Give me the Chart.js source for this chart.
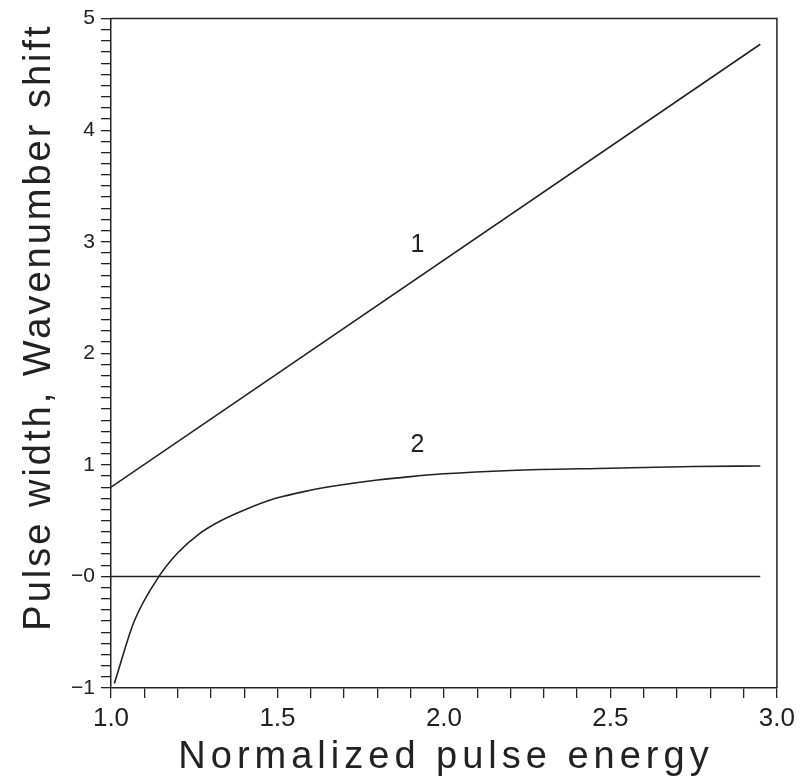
<!DOCTYPE html>
<html>
<head>
<meta charset="utf-8">
<title>Pulse width and wavenumber shift</title>
<script src="https://cdn.jsdelivr.net/npm/chart.js@4.4.1/dist/chart.umd.min.js"></script>
<style>
  html, body { margin: 0; padding: 0; background: #fff; }
  #wrap { width: 800px; height: 778px; position: relative; }
</style>
</head>
<body>
<div id="wrap"><canvas id="chart"></canvas></div>
<script>
// Data
const curve1X = [1.0, 2.95];
const curve1Y = [0.8, 4.77];

const curve2X = [1.01, 1.07, 1.144, 1.2, 1.264, 1.324, 1.404, 1.495, 1.595, 1.68, 1.8, 1.9, 2.0, 2.2, 2.5, 2.75, 2.95];
const curve2Y = [-0.96, -0.40, 0.0, 0.21, 0.38, 0.49, 0.60, 0.70, 0.77, 0.815, 0.865, 0.895, 0.92, 0.95, 0.97, 0.985, 0.99];

const zeroX = [1.0, 2.95];
const zeroY = [0, 0];

const curveLabels = ['1', '2'];
const curveLabelX = [1.92, 1.92];
const curveLabelY = [2.97, 1.18];

// axis ranges, minor tick step, labelled ticks
const xRange = [1, 3];
const yRange = [-1, 5];
const minorStep = 0.1;
const xTickLabels = {'1.0':'1.0', '1.5':'1.5', '2.0':'2.0', '2.5':'2.5', '3.0':'3.0'};
const yTickLabels = {'-1.0':'\u22121', '0.0':'\u22120', '1.0':'1', '2.0':'2', '3.0':'3', '4.0':'4', '5.0':'5'};

const xTitle = 'Normalized pulse energy';
const yTitle = 'Pulse width, Wavenumber shift';

const FONT = '"Liberation Sans", Arial, sans-serif';
const INK = '#222';

function pts(xs, ys){ return xs.map((x,i)=>({x:x, y:ys[i]})); }

function lineSet(xs, ys, smooth){
  return {data: pts(xs, ys), showLine:true, borderColor:INK, borderWidth:1.6, pointRadius:0,
    tension: smooth ? 0.4 : 0, cubicInterpolationMode: smooth ? 'monotone' : 'default', fill:false};
}

// every 0.1 between the ends of the range
function minorTicks(scale){
  const n = Math.round((scale.max - scale.min) / minorStep);
  const out = [];
  for(let i=0;i<=n;i++) out.push({value: Math.round((scale.min + i*minorStep)*10)/10});
  scale.ticks = out;
}

function keyOf(v){ const k = Number(v).toFixed(1); return k === '-0.0' ? '0.0' : k; }

// frame, curve numbers and axis titles
const decorations = {
  id: 'decorations',
  afterDraw(chart){
    const {ctx, chartArea:a, scales} = chart;
    ctx.save();
    ctx.strokeStyle = INK; ctx.lineWidth = 1.5;
    ctx.beginPath();
    ctx.moveTo(a.left, a.top); ctx.lineTo(a.right, a.top); ctx.lineTo(a.right, a.bottom);
    ctx.stroke();

    ctx.fillStyle = INK;
    ctx.font = '25px ' + FONT;
    ctx.textAlign = 'center'; ctx.textBaseline = 'middle';
    curveLabels.forEach((t,i)=>{
      ctx.fillText(t, scales.x.getPixelForValue(curveLabelX[i]), scales.y.getPixelForValue(curveLabelY[i]));
    });

    ctx.font = '38px ' + FONT;
    ctx.textBaseline = 'alphabetic';
    if('letterSpacing' in ctx) ctx.letterSpacing = '5px';
    ctx.fillText(xTitle, 446, 768);

    if('letterSpacing' in ctx) ctx.letterSpacing = '3px';
    ctx.translate(50, 327);
    ctx.rotate(-Math.PI/2);
    ctx.fillText(yTitle, 0, 0);
    ctx.restore();
  }
};

new Chart(document.getElementById('chart'), {
  type: 'scatter',
  data: {
    datasets: [
      lineSet(curve1X, curve1Y, false),
      lineSet(curve2X, curve2Y, true),
      lineSet(zeroX, zeroY, false)
    ]
  },
  options: {
    responsive: true,
    maintainAspectRatio: false,
    animation: false,
    layout: {padding: {left:0, right:23, top:17, bottom:0}},
    plugins: {legend:{display:false}, tooltip:{enabled:false}},
    scales: {
      x: {
        type: 'linear', min: xRange[0], max: xRange[1],
        afterBuildTicks: minorTicks,
        afterFit: s => { s.height = 90; },
        border: {display:true, color:INK, width:1.5},
        grid: {drawOnChartArea:false, drawTicks:true, tickLength:10, color:INK, lineWidth:1.3},
        ticks: {
          autoSkip:false, maxRotation:0, padding:5, color:INK,
          font: {family:FONT, size:26},
          callback: v => xTickLabels[keyOf(v)] || ''
        }
      },
      y: {
        type: 'linear', min: yRange[0], max: yRange[1],
        afterBuildTicks: minorTicks,
        afterFit: s => { s.width = 111; },
        border: {display:true, color:INK, width:1.5},
        grid: {drawOnChartArea:false, drawTicks:true, tickLength:10, color:INK, lineWidth:1.3},
        ticks: {
          autoSkip:false, padding:6, color:INK,
          font: {family:FONT, size:21},
          callback: v => yTickLabels[keyOf(v)] || ''
        }
      }
    }
  },
  plugins: [decorations]
});
</script>
</body>
</html>
